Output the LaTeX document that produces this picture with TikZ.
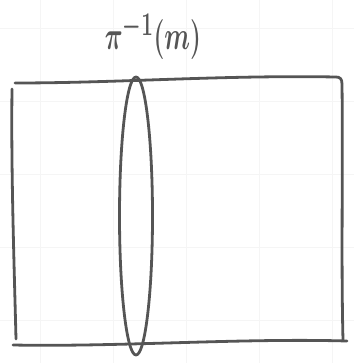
\documentclass[tikz,border=0pt]{standalone}
\usepackage{bm}
\usetikzlibrary{shapes.geometric}
\definecolor{pen}{RGB}{85,85,85}
\tikzset{stroke/.style={draw=pen,line width=2.8pt,line cap=round,line join=round}}
\begin{document}
\begin{tikzpicture}[x=1pt,y=-1pt]
\useasboundingbox (0,0) rectangle (354,363);
% faint grid
\foreach \gx in {40,113,186,259,332} \draw[black!4,line width=0.8pt] (\gx,0) -- (\gx,363);
\foreach \gy in {28,101,174,247,320} \draw[black!4,line width=0.8pt] (0,\gy) -- (354,\gy);
% rectangle strokes
\coordinate (tl) at (15,83);
\coordinate (tr) at (336,77);
\coordinate (rt) at (342,84);
\coordinate (rb) at (343,340);
\coordinate (lt) at (12,89);
\coordinate (lb) at (16,339);
\coordinate (bl) at (13,345);
\coordinate (br) at (347,341);
\draw[stroke] (tl) .. controls (120,83) and (220,75) .. (tr) .. controls (340,77) and (342,79) .. (rt) .. controls (343,170) and (341,260) .. (rb);
\draw[stroke] (lt) .. controls (11,170) and (14,260) .. (lb);
\draw[stroke] (bl) .. controls (120,347) and (240,338) .. (br);
% ellipse
\node[stroke,ellipse,minimum width=33pt,minimum height=278pt,inner sep=0pt] (fib) at (136,216) {};
% label
\node[text=pen,inner sep=0pt,font={\fontsize{32}{38}\selectfont}] (lab) at (153,37) {\scalebox{1}[1.6]{$\bm{\pi^{-1}(m)}$}};
\end{tikzpicture}
\end{document}
